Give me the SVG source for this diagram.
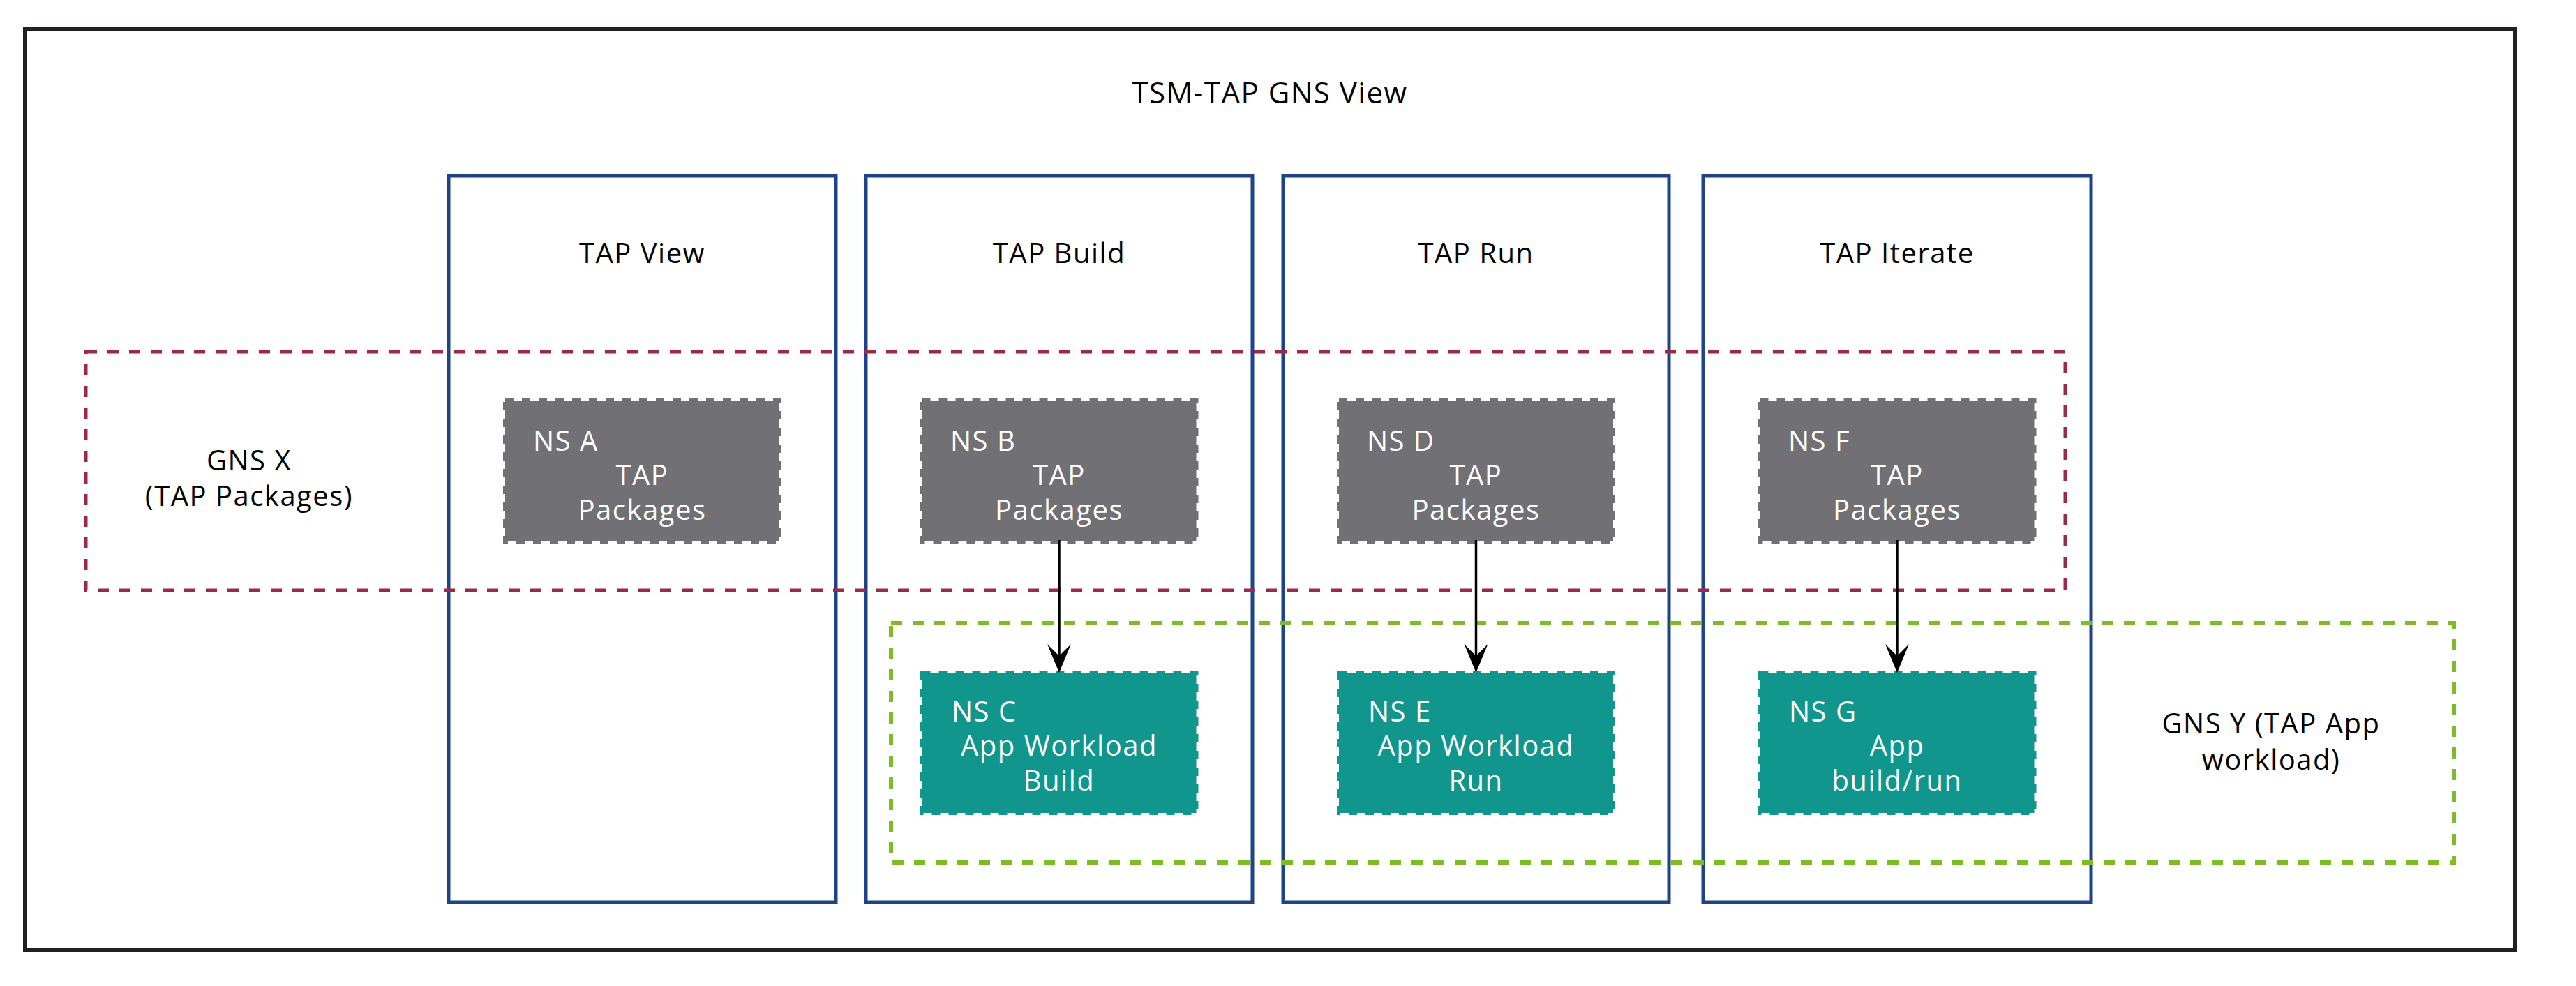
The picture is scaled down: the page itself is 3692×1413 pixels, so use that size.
<svg xmlns="http://www.w3.org/2000/svg" width="3692" height="1413" viewBox="0 0 3692 1413">
<defs>
<style>
.t{font-family:"Open Sans","Liberation Sans",sans-serif;font-size:40px;fill:#000;letter-spacing:1.5px}
.w{font-family:"Open Sans","Liberation Sans",sans-serif;font-size:40px;fill:#fff;letter-spacing:1.5px}
.mid{text-anchor:middle}
.col{fill:#fff;stroke:#1f4389;stroke-width:5}
.gns-x{fill:none;stroke:#9e2947;stroke-width:5;stroke-dasharray:16 15}
.gns-y{fill:none;stroke:#7bbd22;stroke-width:6;stroke-dasharray:16 15}
.pkg{fill:#717074;stroke:#717074;stroke-width:6;stroke-dasharray:12 12}
.wl{fill:#10968c;stroke:#10968c;stroke-width:6;stroke-dasharray:12 12}
.edge{stroke:#000;stroke-width:3.5;fill:none}
</style>
<marker id="ah" markerUnits="userSpaceOnUse" markerWidth="42" markerHeight="36" viewBox="0 0 42 36" refX="17" refY="17" orient="auto">
<path d="M41,17 L0,0 L17,17 L0,34 Z" fill="#000"/>
</marker>
</defs>
<rect width="3692" height="1413" fill="#fff"/>
<g id="frame">
<rect x="36" y="41" width="3569" height="1320" fill="#fff" stroke="#231f20" stroke-width="6"/>
<text class="t mid" x="1820" y="148" style="font-size:42px">TSM-TAP GNS View</text>
</g>
<g id="col-view"><rect class="col" x="643" y="252" width="555" height="1041"/><text class="t mid" x="920.5" y="377">TAP View</text></g>
<g id="col-build"><rect class="col" x="1241" y="252" width="554" height="1041"/><text class="t mid" x="1518" y="377">TAP Build</text></g>
<g id="col-run"><rect class="col" x="1839" y="252" width="553" height="1041"/><text class="t mid" x="2115.5" y="377">TAP Run</text></g>
<g id="col-iterate"><rect class="col" x="2441" y="252" width="556" height="1041"/><text class="t mid" x="2719" y="377">TAP Iterate</text></g>
<g id="gns-x"><rect class="gns-x" x="123" y="504" width="2837" height="342"/><text class="t mid" x="357" y="674">GNS X</text><text class="t mid" x="357" y="725">(TAP Packages)</text></g>
<g id="gns-y"><rect class="gns-y" x="1277" y="893" width="2240" height="343"/><text class="t mid" x="3255" y="1051">GNS Y (TAP App</text><text class="t mid" x="3255" y="1103">workload)</text></g>
<g id="ns-a"><rect class="pkg" x="724" y="574" width="393" height="202"/><text class="w" x="764" y="646">NS A</text><text class="w mid" x="920.5" y="695">TAP</text><text class="w mid" x="920.5" y="745">Packages</text></g>
<g id="ns-b"><rect class="pkg" x="1321.5" y="574" width="393" height="202"/><text class="w" x="1362" y="646">NS B</text><text class="w mid" x="1518" y="695">TAP</text><text class="w mid" x="1518" y="745">Packages</text></g>
<g id="ns-d"><rect class="pkg" x="1919" y="574" width="393" height="202"/><text class="w" x="1959" y="646">NS D</text><text class="w mid" x="2115.5" y="695">TAP</text><text class="w mid" x="2115.5" y="745">Packages</text></g>
<g id="ns-f"><rect class="pkg" x="2522.5" y="574" width="393" height="202"/><text class="w" x="2563" y="646">NS F</text><text class="w mid" x="2719" y="695">TAP</text><text class="w mid" x="2719" y="745">Packages</text></g>
<g id="ns-c"><rect class="wl" x="1321.5" y="965" width="393" height="200"/><text class="w" x="1364" y="1034">NS C</text><text class="w mid" x="1518" y="1083">App Workload</text><text class="w mid" x="1518" y="1133">Build</text></g>
<g id="ns-e"><rect class="wl" x="1919" y="965" width="393" height="200"/><text class="w" x="1961" y="1034">NS E</text><text class="w mid" x="2115.5" y="1083">App Workload</text><text class="w mid" x="2115.5" y="1133">Run</text></g>
<g id="ns-g"><rect class="wl" x="2522.5" y="965" width="393" height="200"/><text class="w" x="2564" y="1034">NS G</text><text class="w mid" x="2719" y="1083">App</text><text class="w mid" x="2719" y="1133">build/run</text></g>
<g id="connectors">
<line class="edge" x1="1518" y1="774" x2="1518" y2="940" marker-end="url(#ah)"/>
<line class="edge" x1="2115.5" y1="774" x2="2115.5" y2="940" marker-end="url(#ah)"/>
<line class="edge" x1="2719" y1="774" x2="2719" y2="940" marker-end="url(#ah)"/>
</g>
</svg>
